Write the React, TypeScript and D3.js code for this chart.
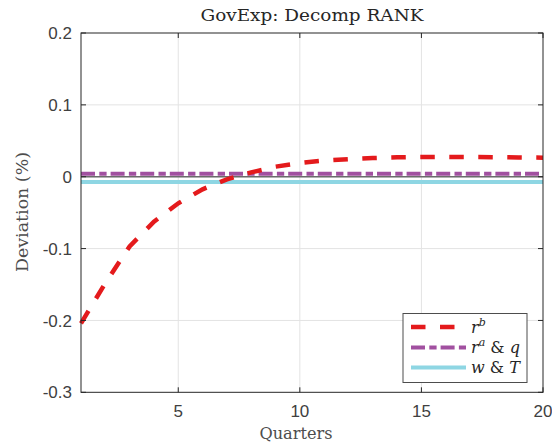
import React from "react";
import * as d3 from "d3";

const quarters = [1,2,3,4,5,6,7,8,9,10,11,12,13,14,15,16,17,18,19,20];
const rb = [-0.204,-0.148,-0.097,-0.0626,-0.037,-0.0175,-0.0037,0.006,0.014,0.019,0.0225,0.0245,0.026,0.027,0.0275,0.0276,0.0275,0.0272,0.0268,0.0265];
const raq = quarters.map(() => 0.004);
const wT = quarters.map(() => -0.0075);
const yTicks = [-0.3,-0.2,-0.1,0,0.1,0.2];
const xTicks = [5,10,15,20];

const W = 552, H = 445;
const L = 81, R = 543, T = 33, B = 392.3;

export default function App() {
  const x = d3.scaleLinear().domain([1, 20]).range([L, R]);
  const y = d3.scaleLinear().domain([-0.3, 0.2]).range([B, T]);
  const line = d3.line<number>().x((_, i) => x(quarters[i])).y(d => y(d));
  const axisColor = "#262626";
  const tickFont = "'Liberation Sans', Arial, sans-serif";
  const serif = "'DejaVu Serif', 'Liberation Serif', serif";
  const fmt = (v: number) => (v === 0 ? "0" : String(Number(v.toFixed(1))));
  const legendRows = [
    { y: 327, color: "#e41a1c", dash: "14.5,14.5", w: 4.5, label: "rb" },
    { y: 347.5, color: "#a150a0", dash: "14,4.3,7.3,4", w: 4, label: "raq" },
    { y: 367.5, color: "#8ed6e3", dash: "", w: 4, label: "wT" },
  ];
  return (
    <svg width={W} height={H} style={{ position: "absolute", left: 0, top: 0, background: "#fff" }}>
      <rect x={0} y={0} width={W} height={H} fill="#fff" />
      {xTicks.filter(t => t < 20).map(t => (
        <line key={"gx" + t} x1={x(t)} x2={x(t)} y1={T} y2={B} stroke="#e3e3e3" strokeWidth={1} />
      ))}
      {yTicks.filter(t => t > -0.3 && t < 0.2).map(t => (
        <line key={"gy" + t} x1={L} x2={R} y1={y(t)} y2={y(t)} stroke="#e3e3e3" strokeWidth={1} />
      ))}
      <line x1={L} x2={R} y1={y(0)} y2={y(0)} stroke="#6b6b6b" strokeWidth={1.5} />
      <path d={line(wT) || ""} fill="none" stroke="#8ed6e3" strokeWidth={4} />
      <path d={line(raq) || ""} fill="none" stroke="#a150a0" strokeWidth={4} strokeDasharray="14,4.3,7.3,4" />
      <path d={line(rb) || ""} fill="none" stroke="#e41a1c" strokeWidth={4.5} strokeDasharray="14.5,14.5" />
      <rect x={L} y={T} width={R - L} height={B - T} fill="none" stroke={axisColor} strokeWidth={1} />
      {yTicks.map(t => (
        <g key={"yt" + t}>
          <line x1={L} x2={L + 5} y1={y(t)} y2={y(t)} stroke={axisColor} />
          <line x1={R} x2={R - 5} y1={y(t)} y2={y(t)} stroke={axisColor} />
          <text x={L - 9} y={y(t)} dy="0.36em" textAnchor="end" fontFamily={tickFont} fontSize={17} fill="#404040">{fmt(t)}</text>
        </g>
      ))}
      {xTicks.map(t => (
        <g key={"xt" + t}>
          <line x1={x(t)} x2={x(t)} y1={B} y2={B - 5} stroke={axisColor} />
          <line x1={x(t)} x2={x(t)} y1={T} y2={T + 5} stroke={axisColor} />
          <text x={x(t)} y={B + 25} textAnchor="middle" fontFamily={tickFont} fontSize={17} fill="#404040">{t}</text>
        </g>
      ))}
      <text x={312} y={21} textAnchor="middle" fontFamily={serif} fontSize={16} fill="#262626" textLength={223} lengthAdjust="spacingAndGlyphs">GovExp: Decomp RANK</text>
      <text x={296} y={439} textAnchor="middle" fontFamily={serif} fontSize={16} fill="#4d4d4d" textLength={73} lengthAdjust="spacingAndGlyphs">Quarters</text>
      <text transform={`translate(28,212) rotate(-90)`} textAnchor="middle" fontFamily={serif} fontSize={16} fill="#4d4d4d" textLength={120} lengthAdjust="spacingAndGlyphs">Deviation (%)</text>
      <rect x={403} y={313.5} width={124} height={69} fill="#fff" stroke="#4d4d4d" strokeWidth={1} />
      {legendRows.map(r => (
        <g key={r.label}>
          <line x1={411} x2={466} y1={r.y} y2={r.y} stroke={r.color} strokeWidth={r.w} strokeDasharray={r.dash} />
          <text x={471} y={r.y} dy="0.35em" fontFamily={serif} fontSize={16} fill="#262626">
            {r.label === "rb" && (<><tspan fontStyle="italic">r</tspan><tspan fontStyle="italic" fontSize={11} dy={-7}>b</tspan></>)}
            {r.label === "raq" && (<><tspan fontStyle="italic">r</tspan><tspan fontStyle="italic" fontSize={11} dy={-7}>a</tspan><tspan dy={7}> &amp; </tspan><tspan fontStyle="italic">q</tspan></>)}
            {r.label === "wT" && (<><tspan fontStyle="italic">w</tspan><tspan> &amp; </tspan><tspan fontStyle="italic">T</tspan></>)}
          </text>
        </g>
      ))}
    </svg>
  );
}
